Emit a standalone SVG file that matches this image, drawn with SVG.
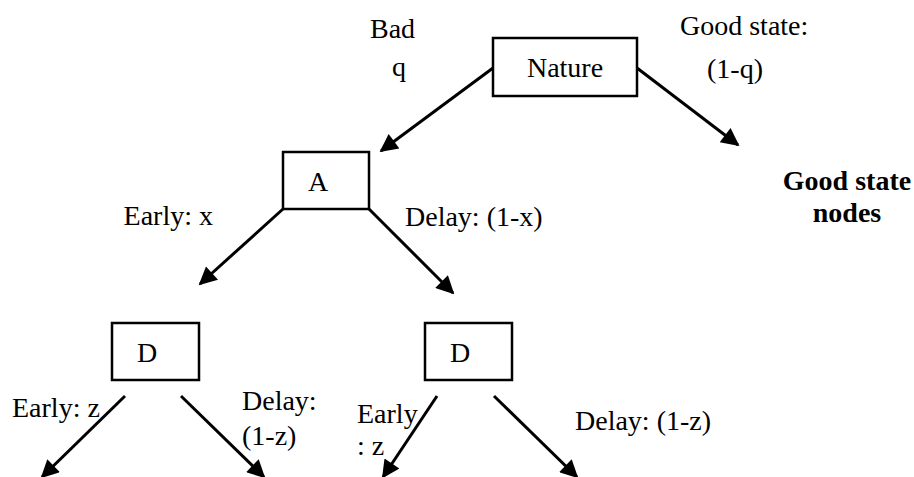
<svg xmlns="http://www.w3.org/2000/svg" width="914" height="477" viewBox="0 0 914 477">
<defs>
<style>
text{font-family:"Liberation Serif","Times New Roman",serif;font-size:28px;fill:#000}
.b{font-weight:bold}
.box{fill:#fff;stroke:#000;stroke-width:2.5}
.c{stroke:#000;stroke-width:3;fill:none;marker-end:url(#ah)}
</style>
<marker id="ah" viewBox="0 0 10 10" refX="9" refY="5" markerWidth="6.5" markerHeight="6" markerUnits="strokeWidth" orient="auto">
<path d="M0,0 L10,5 L0,10 z" fill="#000"/>
</marker>
</defs>
<rect width="914" height="477" fill="#fff"/>
<g id="connectors">
<line class="c" x1="493" y1="68" x2="381" y2="151"/>
<line class="c" x1="637" y1="68" x2="738" y2="145"/>
<line class="c" x1="283" y1="209" x2="200" y2="284"/>
<line class="c" x1="369" y1="209" x2="453" y2="293"/>
<line class="c" x1="125" y1="396" x2="42" y2="477"/>
<line class="c" x1="181" y1="396" x2="264" y2="477"/>
<line class="c" x1="437" y1="396" x2="383" y2="477"/>
<line class="c" x1="494" y1="396" x2="577" y2="477"/>
</g>
<g id="nature">
<rect class="box" x="493" y="38" width="144" height="58"/>
<text x="565" y="77" text-anchor="middle">Nature</text>
</g>
<g id="a">
<rect class="box" x="283" y="152" width="86" height="57"/>
<text x="318" y="191" text-anchor="middle">A</text>
</g>
<g id="d1">
<rect class="box" x="112" y="323" width="87" height="57"/>
<text x="147" y="362" text-anchor="middle">D</text>
</g>
<g id="d2">
<rect class="box" x="425" y="323" width="87" height="57"/>
<text x="460" y="362" text-anchor="middle">D</text>
</g>
<g id="good">
<text class="b" x="847" y="190" text-anchor="middle">Good state</text>
<text class="b" x="847" y="222" text-anchor="middle">nodes</text>
</g>
<g id="labels">
<text x="370" y="38">Bad</text>
<text x="392" y="76">q</text>
<text x="680" y="35">Good state:</text>
<text x="707" y="78">(1-q)</text>
<text x="213" y="225" text-anchor="end">Early: x</text>
<text x="405" y="226">Delay: (1-x)</text>
<text x="12" y="417">Early: z</text>
<text x="242" y="410">Delay:</text>
<text x="242" y="445">(1-z)</text>
<text x="357" y="423">Early</text>
<text x="357" y="455">: z</text>
<text x="575" y="430">Delay: (1-z)</text>
</g>
</svg>
